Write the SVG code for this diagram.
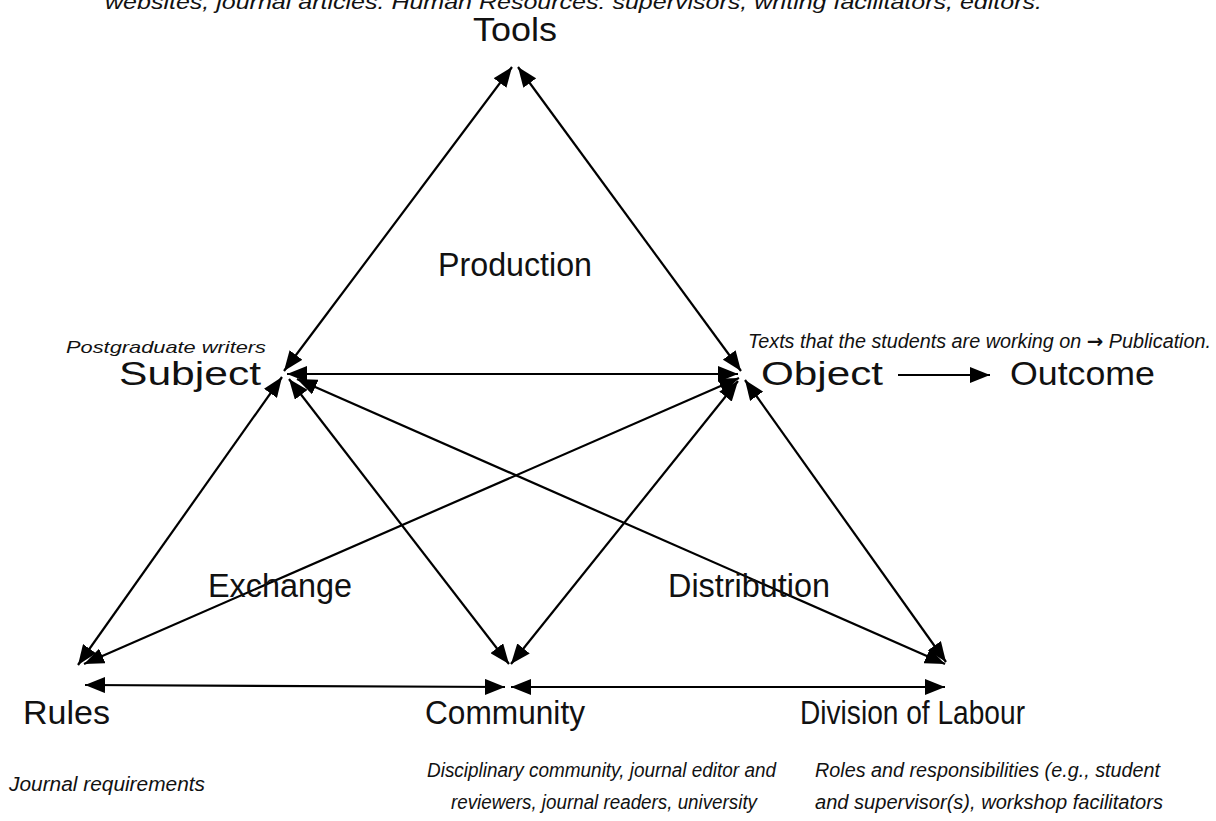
<svg xmlns="http://www.w3.org/2000/svg" width="1216" height="821" viewBox="0 0 1216 821">
  <style>
    .lbl { font-family: "Liberation Sans", Arial, sans-serif; font-size: 33px; fill: #111; }
    .note { font-family: "Liberation Sans", Arial, sans-serif; font-style: italic; font-size: 19.5px; fill: #111; }
    .small { font-size: 17px; }
    .sym { font-family: "DejaVu Sans", sans-serif; font-style: normal; font-weight: bold; }
    .link { stroke: #000; stroke-width: 2.2; fill: none; marker-start: url(#head); marker-end: url(#head); }
    .one { stroke: #000; stroke-width: 2.2; fill: none; marker-end: url(#head); }
  </style>
  <defs>
    <marker id="head" markerUnits="userSpaceOnUse" markerWidth="21" markerHeight="16" refX="20" refY="8" orient="auto-start-reverse">
      <path d="M0,0 L20,8 L0,16 z" fill="#000"/>
    </marker>
  </defs>
  <rect width="1216" height="821" fill="#fff"/>

  <!-- connectors between the six corners of the activity system -->
  <g id="connectors">
    <line class="link" x1="512" y1="67" x2="284" y2="371"/>
    <line class="link" x1="518" y1="67" x2="741" y2="371"/>
    <line class="link" x1="287" y1="374" x2="738" y2="374"/>
    <line class="link" x1="282" y1="377" x2="78" y2="665"/>
    <line class="link" x1="289" y1="379" x2="509" y2="664"/>
    <line class="link" x1="297" y1="379" x2="945" y2="664"/>
    <line class="link" x1="739" y1="378" x2="84" y2="664"/>
    <line class="link" x1="738" y1="381" x2="511" y2="664"/>
    <line class="link" x1="745" y1="380" x2="946" y2="662"/>
    <line class="link" x1="85" y1="685" x2="505" y2="687"/>
    <line class="link" x1="511" y1="687" x2="945" y2="687"/>
    <line class="one" x1="898" y1="375" x2="990" y2="375"/>
  </g>

  <g id="resources-note">
    <text class="note" x="105" y="9" font-size="21" textLength="937" lengthAdjust="spacingAndGlyphs">websites, journal articles. Human Resources: supervisors, writing facilitators, editors.</text>
  </g>

  <g id="tools">
    <text class="lbl" x="473" y="41" textLength="84" lengthAdjust="spacingAndGlyphs">Tools</text>
  </g>

  <g id="production">
    <text class="lbl" x="438" y="276" textLength="154" lengthAdjust="spacingAndGlyphs">Production</text>
  </g>

  <g id="subject">
    <text class="note small" x="66" y="353" textLength="200" lengthAdjust="spacingAndGlyphs">Postgraduate writers</text>
    <text class="lbl" x="119" y="385" textLength="142" lengthAdjust="spacingAndGlyphs">Subject</text>
  </g>

  <g id="object">
    <text class="note" x="748" y="348" textLength="463" lengthAdjust="spacingAndGlyphs">Texts that the students are working on <tspan class="sym">→</tspan> Publication.</text>
    <text class="lbl" x="761" y="385" textLength="122" lengthAdjust="spacingAndGlyphs">Object</text>
  </g>

  <g id="outcome">
    <text class="lbl" x="1010" y="385" textLength="145" lengthAdjust="spacingAndGlyphs">Outcome</text>
  </g>

  <g id="exchange">
    <text class="lbl" x="208" y="597" textLength="144" lengthAdjust="spacingAndGlyphs">Exchange</text>
  </g>

  <g id="distribution">
    <text class="lbl" x="668" y="597" textLength="162" lengthAdjust="spacingAndGlyphs">Distribution</text>
  </g>

  <g id="rules">
    <text class="lbl" x="23" y="724" textLength="87" lengthAdjust="spacingAndGlyphs">Rules</text>
    <text class="note" x="9" y="791" textLength="196" lengthAdjust="spacingAndGlyphs">Journal requirements</text>
  </g>

  <g id="community">
    <text class="lbl" x="425" y="724" textLength="160" lengthAdjust="spacingAndGlyphs">Community</text>
    <text class="note" x="427" y="777" textLength="349" lengthAdjust="spacingAndGlyphs">Disciplinary community, journal editor and</text>
    <text class="note" x="451" y="809" textLength="306" lengthAdjust="spacingAndGlyphs">reviewers, journal readers, university</text>
  </g>

  <g id="division-of-labour">
    <text class="lbl" x="800" y="724" textLength="225" lengthAdjust="spacingAndGlyphs">Division of Labour</text>
    <text class="note" x="815" y="777" textLength="345" lengthAdjust="spacingAndGlyphs">Roles and responsibilities (e.g., student</text>
    <text class="note" x="815" y="809" textLength="348" lengthAdjust="spacingAndGlyphs">and supervisor(s), workshop facilitators</text>
  </g>
</svg>
